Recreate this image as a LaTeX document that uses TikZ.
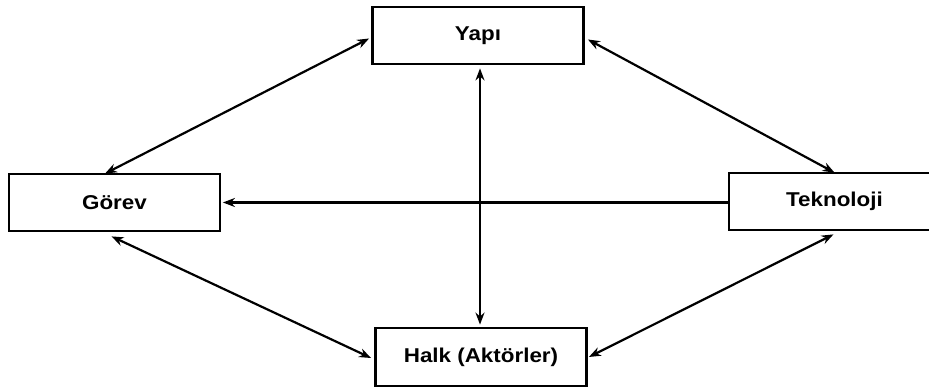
\documentclass[tikz,border=0pt]{standalone}
\usepackage{fontspec}
\setmainfont{Liberation Sans}
\usetikzlibrary{arrows.meta,calc}
\begin{document}
\begin{tikzpicture}[x=1pt,y=1pt,
  box/.style={draw=black,line width=2.8pt,fill=white,rectangle,
    minimum width=211pt,minimum height=57pt,inner sep=0pt,
    font=\fontsize{20}{22}\selectfont\bfseries},
  tip/.style={Stealth[length=12pt,width=9pt]},
  link/.style={line width=2.2pt,draw=black,{Stealth[length=12pt,width=9pt]}-{Stealth[length=12pt,width=9pt]}},
  onelink/.style={line width=2.2pt,draw=black,-{Stealth[length=12pt,width=9pt]}}]
  \useasboundingbox (0,0) rectangle (929,387);
  \clip (0,0) rectangle (929,387);
  \fill[white] (0,0) rectangle (929,387);

  % the four boxes
  \node[box] (yapi)  at (478,351.5) {\scalebox{1.12}[1]{Yapı}};
  \node[box] (gorev) at (114.5,184.5) {\scalebox{1.12}[1]{Görev}};
  \node[box] (tek)   at (834.5,185.5) {\scalebox{1.12}[1]{Teknoloji}};
  \node[box,minimum height=58pt] (halk) at (481,30) {\scalebox{1.12}[1]{Halk (Aktörler)}};

  % connectors between the boxes
  \draw[link] ($(yapi.west)+(-2,-3)$) -- ($(gorev.north)+(-9.5,-1)$);
  \draw[link] ($(yapi.east)+(3,-4)$) -- ($(tek.north)+(0,-1)$);
  \draw[link] ($(gorev.south)+(-3,-4)$) -- ($(halk.west)+(-3,-1)$);
  \draw[link] ($(tek.south)+(-1,-3)$) -- ($(halk.east)+(1,0)$);
  \draw[link] ($(yapi.south)+(2,-3)$) -- ($(halk.north)+(-1,2)$);
  \draw[onelink] (tek.west |- gorev.east) -- ($(gorev.east)+(1.5,0)$);
\end{tikzpicture}
\end{document}
